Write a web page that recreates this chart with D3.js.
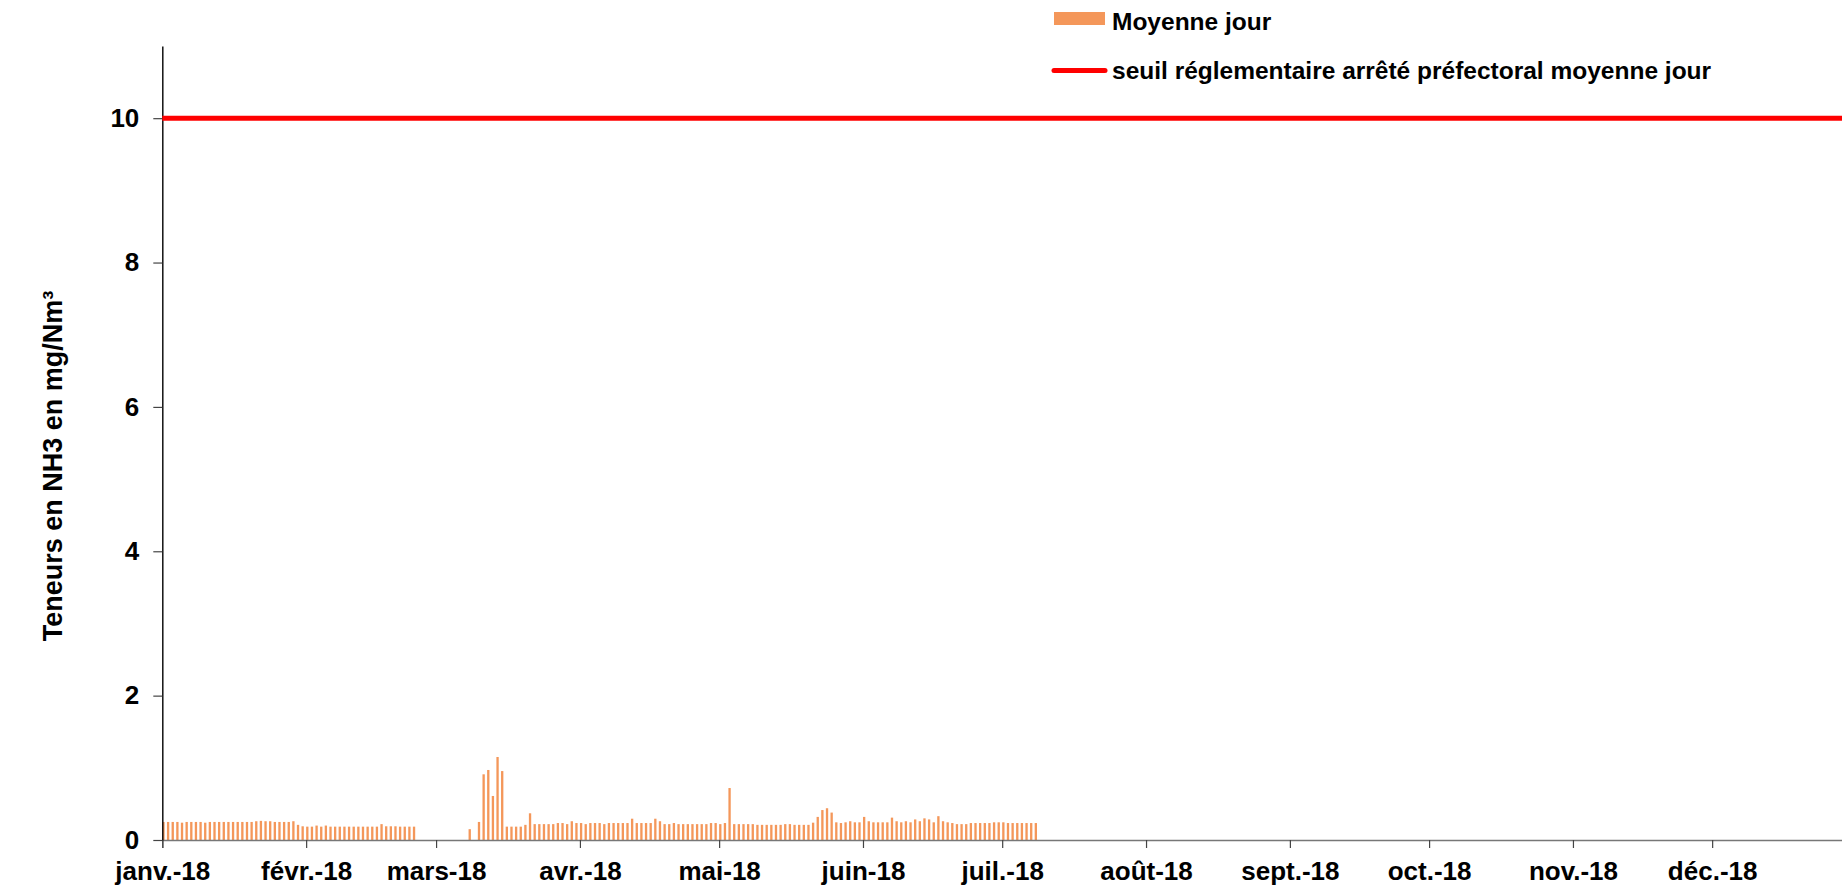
<!DOCTYPE html>
<html>
<head>
<meta charset="utf-8">
<script src="https://cdn.jsdelivr.net/npm/d3@7"></script>
<style>
  body { margin: 0; background: #fff; }
  svg { display: block; font-family: "Liberation Sans", Arial, sans-serif; font-weight: bold; }
</style>
</head>
<body>
<div id="main-container"></div>
<script>
// daily means (mg/Nm3), one value per day, null = no measure
const janv = [0.25,0.25,0.25,0.25,0.24,0.25,0.25,0.25,0.25,0.24,0.25,0.25,0.25,0.25,0.25,0.25,0.25,0.25,0.25,0.25,0.26,0.265,0.26,0.26,0.25,0.25,0.25,0.25,0.26,0.21,0.19]
const fevr = [0.185,0.185,0.2,0.185,0.2,0.185,0.185,0.185,0.185,0.185,0.185,0.185,0.185,0.185,0.185,0.185,0.22,0.19,0.19,0.19,0.185,0.185,0.185,0.185,null,null,null,null]
const mars = [null,null,null,null,null,null,null,0.15,null,0.25,0.91,0.97,0.61,1.15,0.955,0.185,0.185,0.185,0.185,0.21,0.37,0.22,0.22,0.22,0.22,0.22,0.235,0.235,0.22,0.26,0.235]
const avr = [0.235,0.22,0.235,0.235,0.235,0.22,0.235,0.235,0.235,0.235,0.235,0.295,0.235,0.235,0.235,0.235,0.295,0.26,0.22,0.22,0.235,0.22,0.22,0.22,0.22,0.22,0.22,0.22,0.235,0.235]
const mai = [0.22,0.235,0.72,0.22,0.22,0.22,0.22,0.22,0.21,0.21,0.21,0.21,0.21,0.21,0.22,0.22,0.21,0.21,0.21,0.21,0.24,0.32,0.415,0.44,0.38,0.245,0.235,0.245,0.26,0.245,0.245]
const juin = [0.32,0.26,0.245,0.245,0.245,0.245,0.31,0.26,0.245,0.26,0.245,0.285,0.26,0.3,0.285,0.245,0.33,0.26,0.245,0.235,0.22,0.22,0.22,0.235,0.235,0.235,0.235,0.235,0.245,0.245]
const juil = [0.245,0.235,0.235,0.235,0.235,0.235,0.235,0.235]

const seuil = 10
const yTicks = [0, 2, 4, 6, 8, 10]
const monthLabels = ['janv.-18','févr.-18','mars-18','avr.-18','mai-18','juin-18','juil.-18','août-18','sept.-18','oct.-18','nov.-18','déc.-18']
const legendLabels = ['Moyenne jour', 'seuil réglementaire arrêté préfectoral moyenne jour']

const width = 1842
const height = 888
const barColor = '#f4975a'

const months = [janv, fevr, mars, avr, mai, juin, juil]
const dataset = []
months.forEach((vals, m) => {
  vals.forEach((v, d) => {
    if (v !== null) dataset.push([new Date(2018, m, d + 1), v])
  })
})

const svg = d3.select('#main-container').append('svg').attr('width', width).attr('height', height)

const xScale = d3.scaleTime().domain([new Date(2018, 0, 1), new Date(2019, 0, 1)]).range([162.3, 1856])
const yScale = d3.scaleLinear().domain([0, 11]).range([840, 46])
const dayW = xScale(new Date(2018, 0, 2)) - xScale(new Date(2018, 0, 1))

// bars
svg.append('g').selectAll('rect').data(dataset).enter().append('rect')
  .attr('x', d => xScale(d[0]))
  .attr('y', d => yScale(d[1]))
  .attr('width', dayW * 0.5)
  .attr('height', d => yScale(0) - yScale(d[1]))
  .attr('fill', barColor)

// x axis
const monthStarts = d3.timeMonth.range(new Date(2018, 0, 1), new Date(2019, 0, 1))
const xAxis = d3.axisBottom(xScale).tickValues(monthStarts).tickSize(8).tickFormat((d, i) => monthLabels[i])
const gx = svg.append('g').attr('transform', 'translate(0,' + yScale(0) + ')').call(xAxis)
gx.select('.domain').attr('stroke', '#777').attr('stroke-width', 1.5)
gx.selectAll('.tick line').attr('stroke', '#444').attr('stroke-width', 1.2)
gx.selectAll('.tick text').attr('fill', '#000').style('font-size', '26px').attr('y', 0).attr('dy', 40)

// y axis
const yAxis = d3.axisLeft(yScale).tickValues(yTicks).tickSize(9).tickSizeOuter(0).tickPadding(14)
const gy = svg.append('g').attr('transform', 'translate(162.3,0)').call(yAxis)
gy.select('.domain').attr('stroke', '#111').attr('stroke-width', 1.5)
gy.selectAll('.tick line').attr('stroke', '#444').attr('stroke-width', 1.2)
gy.selectAll('.tick text').attr('fill', '#000').style('font-size', '26px')

// threshold line
svg.append('line')
  .attr('x1', xScale.range()[0]).attr('x2', width)
  .attr('y1', yScale(seuil)).attr('y2', yScale(seuil))
  .attr('stroke', '#ff0000').attr('stroke-width', 5)

// y title
svg.append('text')
  .attr('transform', 'translate(62,466) rotate(-90)')
  .attr('text-anchor', 'middle')
  .style('font-size', '27px')
  .text('Teneurs en NH3 en mg/Nm³')

// legend
const leg = svg.append('g').attr('transform', 'translate(1054,0)')
leg.append('rect').attr('x', 0).attr('y', 12).attr('width', 51).attr('height', 13).attr('fill', barColor)
leg.append('line').attr('x1', 0).attr('x2', 51).attr('y1', 70.5).attr('y2', 70.5)
  .attr('stroke', '#ff0000').attr('stroke-width', 5).attr('stroke-linecap', 'round')
leg.selectAll('text.lg').data(legendLabels).enter().append('text')
  .attr('x', 58)
  .attr('y', (d, i) => 30 + i * 49)
  .style('font-size', '24.5px')
  .text(d => d)
</script>
</body>
</html>
